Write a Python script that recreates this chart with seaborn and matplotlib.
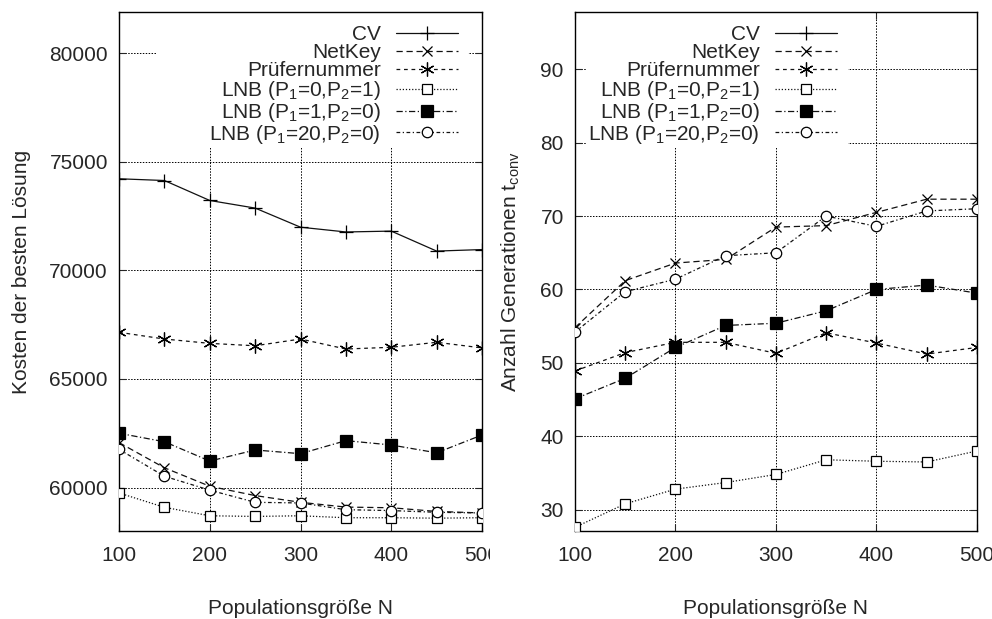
import seaborn as sns
import matplotlib.pyplot as plt
from matplotlib.patches import Rectangle
from matplotlib.transforms import Bbox, TransformedBbox

# Populationsgroesse
N = [100, 150, 200, 250, 300, 350, 400, 450, 500]

labels = ['CV', 'NetKey', 'Prüfernummer',
          r'LNB (P$_1$=0,P$_2$=1)', r'LNB (P$_1$=1,P$_2$=0)', r'LNB (P$_1$=20,P$_2$=0)']

# Kosten der besten Loesung
kosten_cv = [74220, 74140, 73220, 72870, 71990, 71770, 71810, 70890, 70960]
kosten_netkey = [62070, 60910, 60060, 59630, 59320, 59100, 59070, 58900, 58830]
kosten_pruefer = [67150, 66840, 66640, 66530, 66840, 66380, 66460, 66690, 66430]
kosten_lnb01 = [59750, 59090, 58700, 58670, 58700, 58610, 58610, 58590, 58610]
kosten_lnb10 = [62500, 62110, 61220, 61730, 61560, 62160, 61960, 61600, 62420]
kosten_lnb200 = [61760, 60520, 59880, 59320, 59290, 58980, 58940, 58860, 58830]

# Anzahl Generationen t_conv (CV liegt ausserhalb des Bereichs)
gen_cv = []
gen_netkey = [54.8, 61.2, 63.6, 64.1, 68.5, 68.7, 70.5, 72.3, 72.3]
gen_pruefer = [48.9, 51.4, 52.8, 52.8, 51.3, 54.1, 52.7, 51.2, 52.1]
gen_lnb01 = [27.6, 30.8, 32.8, 33.7, 34.8, 36.8, 36.6, 36.5, 38.0]
gen_lnb10 = [45.1, 47.9, 52.1, 55.1, 55.4, 57.1, 60.0, 60.6, 59.5]
gen_lnb200 = [54.2, 59.7, 61.4, 64.6, 65.0, 70.0, 68.6, 70.7, 71.0]

styles = [
    dict(linestyle='-', marker='+', markersize=10, markerfacecolor='k'),
    dict(linestyle=(0, (5, 3)), marker='x', markersize=7, markerfacecolor='k'),
    dict(linestyle=(0, (3, 3)), marker=(6, 2, 0), markersize=10, markerfacecolor='k'),
    dict(linestyle=(0, (1, 1.5)), marker='s', markersize=7.5, markerfacecolor='white'),
    dict(linestyle=(0, (5, 2, 1, 2)), marker='s', markersize=8.5, markerfacecolor='k'),
    dict(linestyle=(0, (3, 2, 1, 2)), marker='o', markersize=7.5, markerfacecolor='white'),
]

sns.set_style('ticks')
plt.rcParams['font.family'] = ['Liberation Sans', 'DejaVu Sans']
plt.rcParams['mathtext.default'] = 'regular'
plt.rcParams['font.size'] = 15

fig = plt.figure(figsize=(9.92, 6.19), dpi=100)
ax1 = fig.add_axes([0.1200, 0.1422, 0.3659, 0.8384])
ax2 = fig.add_axes([0.5796, 0.1422, 0.4052, 0.8384])

panels = [
    (ax1, [kosten_cv, kosten_netkey, kosten_pruefer, kosten_lnb01, kosten_lnb10, kosten_lnb200],
     'Kosten der besten Lösung', (58000, 81900), range(60000, 80001, 5000),
     (0.105, 0.738, 0.856, 0.262), (0.934, 0.975)),
    (ax2, [gen_cv, gen_netkey, gen_pruefer, gen_lnb01, gen_lnb10, gen_lnb200],
     r'Anzahl Generationen t$_{conv}$', (27.1, 97.8), range(30, 91, 10),
     (0.03, 0.738, 0.65, 0.262), (0.652, 0.975)),
]

for ax, series, ylabel, ylim, yticks, box, anchor in panels:
    for vals, lab, st in zip(series, labels, styles):
        if len(vals):
            sns.lineplot(x=N, y=vals, ax=ax, color='#111111', lw=0.9,
                         markeredgecolor='k', markeredgewidth=0.9,
                         label=lab, legend=False, zorder=3, **st)
        else:
            ax.plot([], [], color='#111111', lw=0.9, markeredgecolor='k',
                    markeredgewidth=0.9, label=lab, **st)
    ax.set_xlim(100, 500)
    ax.set_ylim(*ylim)
    ax.set_xticks([100, 200, 300, 400, 500])
    ax.set_yticks(list(yticks))
    ax.grid(True, color='k', linestyle=(0, (1.5, 1.5)), lw=0.7)
    ax.set_axisbelow(True)
    ax.add_patch(Rectangle(box[:2], box[2], box[3], transform=ax.transAxes,
                           facecolor='white', edgecolor='none', zorder=1.5))
    ax.tick_params(direction='in', top=True, right=True, length=5, pad=8, labelsize=15)
    ax.tick_params(axis='x', pad=11)
    for sp in ax.spines.values():
        sp.set_color('k')
        sp.set_linewidth(1)
    ax.set_xlabel('Populationsgröße N', fontsize=15, labelpad=24)
    ax.set_ylabel(ylabel, fontsize=15, labelpad=13)
    leg = ax.legend(loc='upper right', bbox_to_anchor=anchor, markerfirst=False,
                    frameon=False, numpoints=1, handlelength=3.0, handletextpad=0.7,
                    labelspacing=-0.05, borderaxespad=0, borderpad=0, fontsize=15)
    leg.set_zorder(5)

# das linke Teilbild ist rechts abgeschnitten
clip = TransformedBbox(Bbox([[0, 0], [490 / 992, 1]]), fig.transFigure)
for t in ax1.get_xticklabels():
    t.set_clip_box(clip)
    t.set_clip_on(True)

plt.savefig('out.png', dpi=100)
